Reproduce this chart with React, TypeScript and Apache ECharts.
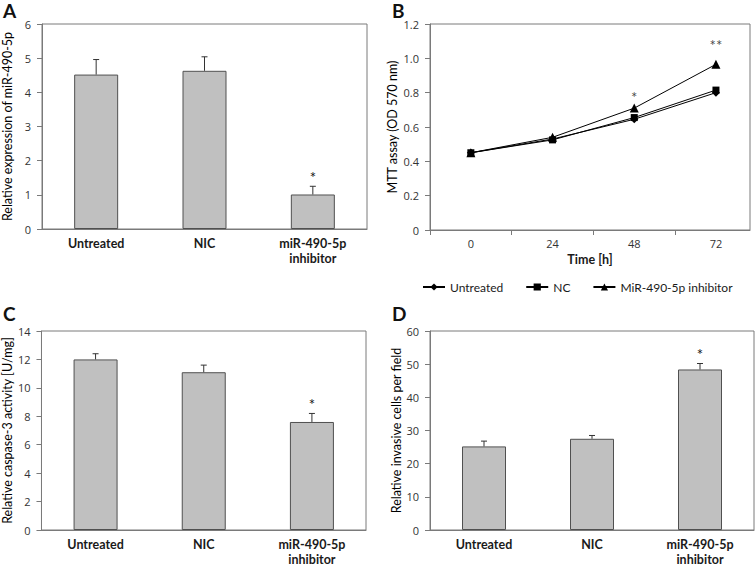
import React, { useEffect, useRef } from "react";
import * as echarts from "echarts";

// ---- Data ----
const barCategories = ["Untreated", "NIC", "miR-490-5p\ninhibitor"];

// Panel A: relative expression of miR-490-5p
const exprMean = [4.52, 4.63, 1.01];
const exprErr = [0.44, 0.41, 0.24];
const exprSig = ["", "", "*"];

// Panel B: MTT assay
const timePoints = [0, 24, 48, 72];
const mttUntreated = [0.45, 0.53, 0.645, 0.8];
const mttNC = [0.45, 0.525, 0.655, 0.815];
const mttInhibitor = [0.45, 0.54, 0.71, 0.965];
const mttSig = ["", "", "*", "**"];
const mttSigLevel = [0, 0, 0.775, 1.075];
const lineNames = ["Untreated", "NC", "MiR-490-5p inhibitor"];

// Panel C: caspase-3 activity
const caspMean = [12.0, 11.1, 7.6];
const caspErr = [0.4, 0.5, 0.6];
const caspSig = ["", "", "*"];

// Panel D: invasive cells
const invMean = [25.2, 27.5, 48.4];
const invErr = [1.6, 1.0, 1.8];
const invSig = ["", "", "*"];

const yTicksB = [0, 0.2, 0.4, 0.6, 0.8, 1.0, 1.2];

const FONT = "Lato, 'Open Sans', sans-serif";
const TICK_FONT = "'Open Sans', Lato, sans-serif";
const AXIS_COLOR = "#7a7a7a";
const TEXT_COLOR = "#1a1a1a";

export default function App() {
  const ref = useRef<HTMLDivElement>(null);

  useEffect(() => {
    if (!ref.current) return;
    const chart = echarts.init(ref.current, null, { renderer: "svg" });

    const grids = [
      { left: 41, top: 24, width: 326, height: 205 },
      { left: 430, top: 24, width: 320, height: 206 },
      { left: 41, top: 331, width: 325, height: 205 },
      { left: 430, top: 331, width: 324, height: 206 },
    ].map((g) => ({
      ...g,
      show: true,
      borderColor: AXIS_COLOR,
      borderWidth: 1,
      backgroundColor: "transparent",
      containLabel: false,
    }));

    const axisLine = { onZero: false, lineStyle: { color: AXIS_COLOR, width: 1 } };
    const axisTick = { length: 5, lineStyle: { color: AXIS_COLOR } };

    const catAxis = (gridIndex: number) => ({
      type: "category",
      gridIndex,
      data: barCategories,
      axisLine,
      axisTick,
      axisLabel: {
        margin: 7,
        color: TEXT_COLOR,
        fontFamily: FONT,
        fontSize: 12.5,
        fontWeight: "bold",
        lineHeight: 15,
        interval: 0,
      },
    });

    const valAxis = (
      gridIndex: number,
      max: number,
      interval: number,
      name: string,
      nameGap: number
    ) => ({
      type: "value",
      gridIndex,
      min: 0,
      max,
      interval,
      name,
      nameLocation: "middle",
      nameGap,
      nameTextStyle: {
        color: "#000",
        fontFamily: FONT,
        fontSize: 12.5,
      },
      axisLine: { show: true, ...axisLine },
      axisTick: { show: true, ...axisTick },
      splitLine: { show: false },
      axisLabel: {
        margin: 11,
        color: "#333",
        fontFamily: TICK_FONT,
        fontSize: 11,
      },
    });

    const barSeries = (idx: number, name: string, data: number[]) => ({
      type: "bar",
      name,
      xAxisIndex: idx,
      yAxisIndex: idx,
      data,
      barWidth: 44,
      itemStyle: { color: "#c0c0c0", borderColor: "#505050", borderWidth: 1 },
      z: 2,
    });

    const errSeries = (
      idx: number,
      mean: number[],
      err: number[],
      sig: string[]
    ) => ({
      type: "custom",
      xAxisIndex: idx,
      yAxisIndex: idx,
      z: 5,
      data: mean.map((m, i) => [i, m, m + err[i], i]),
      renderItem: (params: any, api: any) => {
        const i = api.value(0);
        const base = api.coord([i, api.value(1)]);
        const top = api.coord([i, api.value(2)]);
        const s = sig[api.value(3)];
        const children: any[] = [
          {
            type: "line",
            shape: { x1: base[0], y1: base[1], x2: top[0], y2: top[1] },
            style: { stroke: "#333", lineWidth: 1 },
          },
          {
            type: "line",
            shape: { x1: top[0] - 3, y1: top[1], x2: top[0] + 3, y2: top[1] },
            style: { stroke: "#333", lineWidth: 1 },
          },
        ];
        if (s) {
          children.push({
            type: "text",
            style: {
              text: s,
              x: top[0],
              y: top[1] - 2,
              align: "center",
              verticalAlign: "bottom",
              fontSize: 15,
              fontFamily: FONT,
              fill: "#111",
            },
          });
        }
        return { type: "group", children };
      },
    });

    const lineSeries = (name: string, data: number[], symbol: string, size: number) => ({
      type: "line",
      name,
      xAxisIndex: 1,
      yAxisIndex: 1,
      data: timePoints.map((t, i) => [t, data[i]]),
      symbol,
      symbolSize: size,
      showSymbol: true,
      lineStyle: { color: "#000", width: 1 },
      itemStyle: { color: "#000" },
      z: 3,
    });

    const letter = (text: string, left: number, top: number) => ({
      type: "text",
      left,
      top,
      style: {
        text,
        fontSize: 19,
        fontWeight: "bold",
        fontFamily: FONT,
        fill: "#111",
      },
    });

    const option: any = {
      animation: false,
      backgroundColor: "#fff",
      grid: grids,
      legend: {
        data: lineNames,
        left: 417,
        top: 276,
        width: 340,
        itemWidth: 22,
        itemHeight: 9,
        itemGap: 22,
        textStyle: { color: TEXT_COLOR, fontFamily: FONT, fontSize: 12 },
      },
      xAxis: [
        catAxis(0),
        {
          type: "value",
          gridIndex: 1,
          min: -12,
          max: 82,
          name: "Time [h]",
          nameLocation: "middle",
          nameGap: 23,
          nameTextStyle: {
            color: TEXT_COLOR,
            fontFamily: FONT,
            fontSize: 12.5,
            fontWeight: "bold",
          },
          axisLine,
          axisTick: { show: true, ...axisTick, customValues: [-12, 12, 36, 60] },
          splitLine: { show: false },
          axisLabel: {
            margin: 8,
            color: "#333",
            fontFamily: TICK_FONT,
            fontSize: 11,
            customValues: timePoints,
          },
        },
        catAxis(2),
        catAxis(3),
      ],
      yAxis: [
        valAxis(0, 6, 1, "Relative expression of miR-490-5p", 28),
        {
          ...valAxis(1, 1.2, 0.2, "MTT assay (OD 570 nm)", 31),
          axisLabel: {
            margin: 11,
            color: "#333",
            fontFamily: TICK_FONT,
            fontSize: 11,
            customValues: yTicksB,
            formatter: (v: number) => (v === 0 ? "0" : v.toFixed(1)),
          },
        },
        valAxis(2, 14, 2, "Relative caspase-3 activity [U/mg]", 26),
        valAxis(3, 60, 10, "Relative invasive cells per field", 24),
      ],
      series: [
        barSeries(0, "exprA", exprMean),
        errSeries(0, exprMean, exprErr, exprSig),
        lineSeries(lineNames[0], mttUntreated, "diamond", 8),
        lineSeries(lineNames[1], mttNC, "rect", 7),
        lineSeries(lineNames[2], mttInhibitor, "triangle", 9),
        {
          type: "scatter",
          name: "sigB",
          xAxisIndex: 1,
          yAxisIndex: 1,
          symbolSize: 0,
          silent: true,
          data: timePoints
            .map((t, i) => ({ value: [t, mttSigLevel[i]], sig: mttSig[i] }))
            .filter((d) => d.sig)
            .map((d) => ({
              value: d.value,
              label: {
                show: true,
                formatter: d.sig,
                position: "inside",
                fontSize: 15,
                fontFamily: FONT,
                color: "#111",
              },
            })),
        },
        barSeries(2, "caspC", caspMean),
        errSeries(2, caspMean, caspErr, caspSig),
        barSeries(3, "invD", invMean),
        errSeries(3, invMean, invErr, invSig),
      ],
      graphic: [
        letter("A", 3, 1),
        letter("B", 392, 1),
        letter("C", 3, 304),
        letter("D", 392, 304),
      ],
    };

    chart.setOption(option);
    return () => chart.dispose();
  }, []);

  return (
    <div
      ref={ref}
      style={{ position: "fixed", left: 0, top: 0, width: 756, height: 567, background: "#fff" }}
    />
  );
}
